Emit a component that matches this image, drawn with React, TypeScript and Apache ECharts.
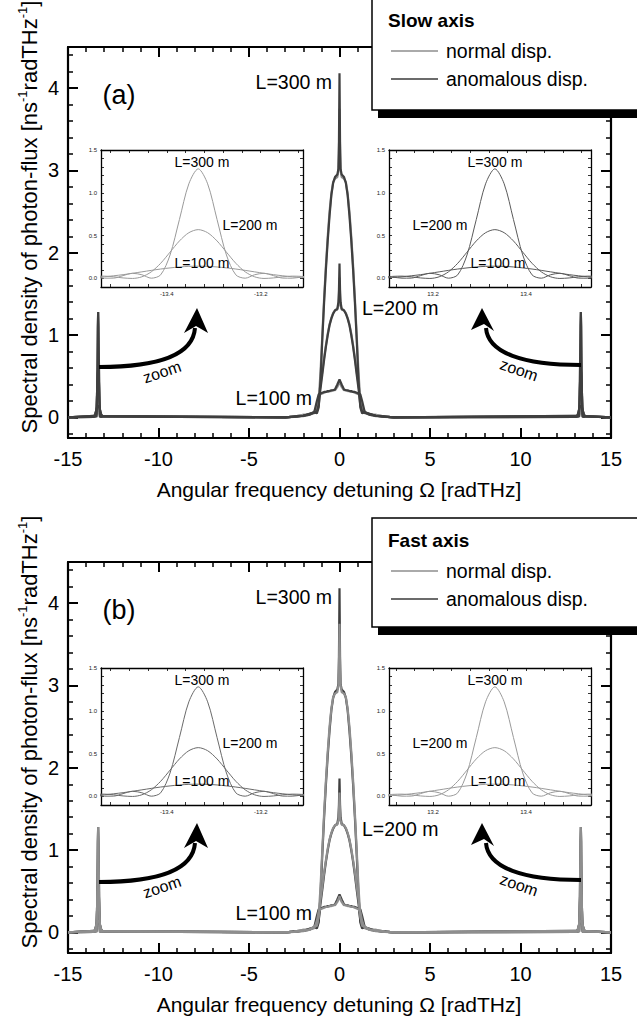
import React, { useEffect, useRef } from 'react';
import * as echarts from 'echarts';

const FONT = '"Liberation Sans", Arial, Helvetica, sans-serif';

// ---------- main-plot data ----------
const X_EDGES = [-15, 15];
const X_LABELS = [-15, -10, -5, 0, 5, 10, 15];
const Y_TICKS = [0, 1, 2, 3, 4];
const Y_MINOR = [-0.2, 0.2, 0.4, 0.6, 0.8, 1.2, 1.4, 1.6, 1.8, 2.2, 2.4, 2.6, 2.8, 3.2, 3.4, 3.6, 3.8, 4.2, 4.4];

const MAIN_X = [-3, -2.5, -2, -1.7, -1.4, -1.25, -1.15, -1.05, -0.95, -0.85, -0.75, -0.65, -0.55, -0.45, -0.35, -0.25, -0.12, -0.06, -0.03, 0, 0.03, 0.06, 0.12, 0.25, 0.35, 0.45, 0.55, 0.65, 0.75, 0.85, 0.95, 1.05, 1.15, 1.25, 1.4, 1.7, 2, 2.5, 3];
const L300_ANOM = [0, 0.01, 0.02, 0.04, 0.06, 0.05, 0.12, 0.45, 0.95, 1.4, 1.8, 2.15, 2.45, 2.7, 2.85, 2.92, 2.95, 3.02, 3.35, 4.18, 3.35, 3.02, 2.95, 2.92, 2.85, 2.7, 2.45, 2.15, 1.8, 1.4, 0.95, 0.45, 0.12, 0.05, 0.06, 0.04, 0.02, 0.01, 0];
const L300_NORM = [0, 0.01, 0.03, 0.03, 0.07, 0.08, 0.2, 0.55, 1.0, 1.45, 1.85, 2.2, 2.5, 2.72, 2.86, 2.9, 2.92, 3.0, 3.2, 3.75, 3.2, 3.0, 2.92, 2.9, 2.86, 2.72, 2.5, 2.2, 1.85, 1.45, 1.0, 0.55, 0.2, 0.08, 0.07, 0.03, 0.03, 0.01, 0];
const L200_ANOM = [0, 0.01, 0.02, 0.04, 0.06, 0.07, 0.15, 0.35, 0.52, 0.7, 0.86, 1.0, 1.12, 1.2, 1.26, 1.3, 1.32, 1.4, 1.55, 1.87, 1.55, 1.4, 1.32, 1.3, 1.26, 1.2, 1.12, 1.0, 0.86, 0.7, 0.52, 0.35, 0.15, 0.07, 0.06, 0.04, 0.02, 0.01, 0];
const L200_NORM = [0, 0.01, 0.03, 0.03, 0.07, 0.09, 0.2, 0.4, 0.56, 0.73, 0.88, 1.02, 1.13, 1.21, 1.27, 1.3, 1.31, 1.36, 1.45, 1.7, 1.45, 1.36, 1.31, 1.3, 1.27, 1.21, 1.13, 1.02, 0.88, 0.73, 0.56, 0.4, 0.2, 0.09, 0.07, 0.03, 0.03, 0.01, 0];
const L100_ANOM = [0, 0.01, 0.02, 0.03, 0.06, 0.2, 0.28, 0.29, 0.3, 0.31, 0.31, 0.32, 0.32, 0.33, 0.33, 0.34, 0.4, 0.43, 0.445, 0.46, 0.445, 0.43, 0.4, 0.34, 0.33, 0.33, 0.32, 0.32, 0.31, 0.31, 0.3, 0.29, 0.28, 0.2, 0.06, 0.03, 0.02, 0.01, 0];
const L100_NORM = [0, 0.005, 0.015, 0.03, 0.05, 0.14, 0.25, 0.28, 0.29, 0.3, 0.31, 0.31, 0.32, 0.32, 0.33, 0.33, 0.37, 0.4, 0.42, 0.44, 0.42, 0.4, 0.37, 0.33, 0.33, 0.32, 0.32, 0.31, 0.31, 0.3, 0.29, 0.28, 0.25, 0.14, 0.05, 0.03, 0.015, 0.005, 0];

// ---------- side peaks (inset data) ----------
const PEAK_POS = 13.333;
const INSET_OFF = [-0.24, -0.22, -0.2, -0.18, -0.16, -0.14, -0.12, -0.1, -0.08, -0.06, -0.04, -0.02, 0, 0.02, 0.04, 0.06, 0.08, 0.1, 0.12, 0.14, 0.16, 0.18, 0.2, 0.22, 0.24];
const INSET_L300 = [0.02, 0.016, 0.003, 0.004, 0.033, 0.06, 0.043, 0.003, 0.042, 0.274, 0.689, 1.105, 1.28, 1.105, 0.689, 0.274, 0.042, 0.003, 0.043, 0.06, 0.033, 0.004, 0.003, 0.016, 0.02];
const INSET_L200 = [0.015, 0.024, 0.027, 0.019, 0.006, 0, 0.019, 0.077, 0.177, 0.307, 0.438, 0.534, 0.57, 0.534, 0.438, 0.307, 0.177, 0.077, 0.019, 0, 0.006, 0.019, 0.027, 0.024, 0.015];
const INSET_L100 = [0.005, 0.011, 0.019, 0.031, 0.044, 0.06, 0.077, 0.094, 0.11, 0.123, 0.134, 0.141, 0.143, 0.141, 0.134, 0.123, 0.11, 0.094, 0.077, 0.06, 0.044, 0.031, 0.019, 0.011, 0.005];

const INSET_LEFT_RANGE = [-13.54, -13.11];
const INSET_RIGHT_RANGE = [13.105, 13.54];
const INSET_LEFT_LABELS = [-13.4, -13.2];
const INSET_RIGHT_LABELS = [13.2, 13.4];
const INSET_LEFT_TICKS = [-13.52, -13.48, -13.44, -13.4, -13.36, -13.32, -13.28, -13.24, -13.2, -13.16, -13.12];
const INSET_RIGHT_TICKS = [13.12, 13.16, 13.2, 13.24, 13.28, 13.32, 13.36, 13.4, 13.44, 13.48, 13.52];
const INSET_Y_LABELS = [0, 0.5, 1.0, 1.5];
const INSET_Y_TICKS = [-0.1, 0, 0.1, 0.2, 0.3, 0.4, 0.5, 0.6, 0.7, 0.8, 0.9, 1.0, 1.1, 1.2, 1.3, 1.4, 1.5];

const L_NAMES = ['L=300 m', 'L=200 m', 'L=100 m'];

function buildOption() {
  const grid: any[] = [];
  const xAxis: any[] = [];
  const yAxis: any[] = [];
  const series: any[] = [];
  const graphic: any[] = [];

  const line = (w: number) => ({ show: true, onZero: false, lineStyle: { color: '#000', width: w } });

  function addMain(dy: number) {
    const gi = grid.length;
    grid.push({ left: 68, top: 47 + dy, width: 543, height: 391 });
    const xi = xAxis.length;
    for (const pos of ['bottom', 'top']) {
      xAxis.push({
        gridIndex: gi, type: 'value', position: pos, min: X_EDGES[0], max: X_EDGES[1], interval: 5,
        axisLine: line(2.2), splitLine: { show: false },
        axisTick: { show: true, inside: true, length: 10, lineStyle: { color: '#000', width: 2 } },
        minorTick: { show: true, splitNumber: 5, length: 5, lineStyle: { color: '#000', width: 1.5 } },
        axisLabel: pos === 'bottom'
          ? { show: true, customValues: X_LABELS, fontSize: 20, fontFamily: FONT, color: '#000', margin: 11 }
          : { show: false },
      });
    }
    const yi = yAxis.length;
    for (const pos of ['left', 'right']) {
      yAxis.push({
        gridIndex: gi, type: 'value', position: pos, min: -0.25, max: 4.5,
        axisLine: line(2.2), splitLine: { show: false },
        axisTick: { show: true, inside: true, length: 10, customValues: Y_TICKS, lineStyle: { color: '#000', width: 2 } },
        axisLabel: pos === 'left'
          ? { show: true, customValues: Y_TICKS, fontSize: 20, fontFamily: FONT, color: '#000', margin: 9 }
          : { show: false },
      });
      yAxis.push({
        gridIndex: gi, type: 'value', position: pos, min: -0.25, max: 4.5,
        axisLine: { show: false, onZero: false }, splitLine: { show: false },
        axisTick: { show: true, inside: true, length: 5, customValues: Y_MINOR, lineStyle: { color: '#000', width: 1.5 } },
        axisLabel: { show: false },
      });
    }
    return { xi, yi };
  }

  function addInset(left: number, top: number, range: number[], labels: number[], ticks: number[]) {
    const gi = grid.length;
    grid.push({ left, top, width: 202, height: 137, show: true, backgroundColor: '#fff', borderWidth: 0 });
    const xi = xAxis.length;
    for (const pos of ['bottom', 'top']) {
      xAxis.push({
        gridIndex: gi, type: 'value', position: pos, min: range[0], max: range[1],
        axisLine: line(1.3), splitLine: { show: false },
        axisTick: { show: true, inside: true, length: 3, customValues: ticks, lineStyle: { color: '#000', width: 0.8 } },
        axisLabel: pos === 'bottom'
          ? { show: true, customValues: labels, fontSize: 6, fontFamily: FONT, color: '#222', margin: 4, formatter: (v: number) => v.toFixed(1) }
          : { show: false },
      });
    }
    const yi = yAxis.length;
    for (const pos of ['left', 'right']) {
      yAxis.push({
        gridIndex: gi, type: 'value', position: pos, min: -0.1, max: 1.5,
        axisLine: line(1.3), splitLine: { show: false },
        axisTick: { show: true, inside: true, length: 3, customValues: INSET_Y_TICKS, lineStyle: { color: '#000', width: 0.8 } },
        axisLabel: pos === 'left'
          ? { show: true, customValues: INSET_Y_LABELS, fontSize: 6, fontFamily: FONT, color: '#222', margin: 4, formatter: (v: number) => v.toFixed(1) }
          : { show: false },
      });
    }
    return { xi, yi };
  }

  const sidePeaks = (center: number, vals: number[]) => INSET_OFF.map((o, i) => [center + o, vals[i]]);
  const mainData = (central: number[], side: number[]) => [
    [X_EDGES[0], 0],
    ...sidePeaks(-PEAK_POS, side),
    ...MAIN_X.map((x, i) => [x, central[i]]),
    ...sidePeaks(PEAK_POS, side),
    [X_EDGES[1], 0],
  ];

  const panels = [
    { dy: 0, tag: '(a)', title: 'Slow axis', insetDy: 0, legTop: -5, legH: 115, ty: 20, l200y: 308, order: ['norm', 'anom'], lc: '#9a9a9a', rc: '#5a5a5a' },
    { dy: 515, tag: '(b)', title: 'Fast axis', insetDy: 518, legTop: 518, legH: 109, ty: 540, l200y: 829, order: ['anom', 'norm'], lc: '#6a6a6a', rc: '#9a9a9a' },
  ];

  for (const p of panels) {
    const m = addMain(p.dy);
    const mainSets: Record<string, number[][]> = {
      anom: [L300_ANOM, L200_ANOM, L100_ANOM],
      norm: [L300_NORM, L200_NORM, L100_NORM],
    };
    const sides = [INSET_L300, INSET_L200, INSET_L100];
    for (const kind of p.order) {
      mainSets[kind].forEach((arr, k) => {
        series.push({
          type: 'line', xAxisIndex: m.xi, yAxisIndex: m.yi, showSymbol: false, symbol: 'none',
          data: mainData(arr, sides[k]), silent: true,
          lineStyle: { color: kind === 'anom' ? '#3f3f3f' : '#8e8e8e', width: 2.2 },
          z: 3,
        });
      });
    }

    const insets = [
      { left: 101, range: INSET_LEFT_RANGE, labels: INSET_LEFT_LABELS, ticks: INSET_LEFT_TICKS, center: -PEAK_POS, color: p.lc },
      { left: 389, range: INSET_RIGHT_RANGE, labels: INSET_RIGHT_LABELS, ticks: INSET_RIGHT_TICKS, center: PEAK_POS, color: p.rc },
    ];
    for (const ins of insets) {
      const a = addInset(ins.left, 150 + p.insetDy, ins.range, ins.labels, ins.ticks);
      sides.forEach((vals) => {
        series.push({
          type: 'line', xAxisIndex: a.xi, yAxisIndex: a.yi, showSymbol: false, symbol: 'none', smooth: 0.3,
          data: sidePeaks(ins.center, vals), silent: true,
          lineStyle: { color: ins.color, width: 1 }, z: 5,
        });
      });
    }

    const T = (x: number, y: number, text: string, size: number, extra: any = {}) => ({
      type: 'text', x, y, z: 100, rotation: extra.rot || 0,
      style: {
        text, fontSize: size, fontFamily: FONT, fill: '#000', fontWeight: extra.weight || 'normal',
        align: extra.align || 'center', verticalAlign: 'middle',
      },
    });
    const dy = p.dy;
    const idy = p.insetDy;

    // panel tag
    graphic.push(T(119, 95 + dy, p.tag, 27));
    // main curve labels
    graphic.push(T(332, 82 + dy, L_NAMES[0], 19.5, { align: 'right' }));
    graphic.push(T(362, p.l200y, L_NAMES[1], 19.5, { align: 'left' }));
    graphic.push(T(312, 398 + dy, L_NAMES[2], 19.5, { align: 'right' }));
    // inset labels
    graphic.push(T(202, 162 + idy, L_NAMES[0], 14));
    graphic.push(T(250, 225 + idy, L_NAMES[1], 14));
    graphic.push(T(202, 263 + idy, L_NAMES[2], 14));
    graphic.push(T(495, 162 + idy, L_NAMES[0], 14));
    graphic.push(T(440, 225 + idy, L_NAMES[1], 14));
    graphic.push(T(498, 263 + idy, L_NAMES[2], 14));

    // axis titles
    graphic.push(T(339, 489 + dy, 'Angular frequency detuning Ω [radTHz]', 21));
    graphic.push({
      type: 'text', x: 29, y: 217 + dy, z: 100, rotation: Math.PI / 2,
      style: {
        text: '{n|Spectral density of photon-flux [ns}{s|-1}{n|radTHz}{s|-1}{n|]}',
        align: 'center', verticalAlign: 'middle', fill: '#000',
        rich: {
          n: { fontSize: 22, fontFamily: FONT, lineHeight: 27, fill: '#000' },
          s: { fontSize: 13, fontFamily: FONT, lineHeight: 14, verticalAlign: 'top', fill: '#000' },
        },
      },
    });

    // zoom arrows
    graphic.push({
      type: 'bezierCurve', z: 100,
      shape: { x1: 99, y1: 367 + dy, x2: 195, y2: 328 + dy, cpx1: 160, cpy1: 367 + dy, cpx2: 193, cpy2: 355 + dy },
      style: { stroke: '#000', lineWidth: 4, fill: 'none' },
    });
    graphic.push({
      type: 'polygon', z: 101,
      shape: { points: [[197, 308 + dy], [184, 333 + dy], [196, 326 + dy], [208, 333 + dy]] },
      style: { fill: '#000' },
    });
    graphic.push(T(162, 372 + dy, 'zoom', 16, { rot: 0.33 }));
    graphic.push({
      type: 'bezierCurve', z: 100,
      shape: { x1: 581, y1: 365 + dy, x2: 486, y2: 328 + dy, cpx1: 523, cpy1: 365 + dy, cpx2: 488, cpy2: 353 + dy },
      style: { stroke: '#000', lineWidth: 4, fill: 'none' },
    });
    graphic.push({
      type: 'polygon', z: 101,
      shape: { points: [[482, 308 + dy], [471, 330 + dy], [484, 324 + dy], [494, 331 + dy]] },
      style: { fill: '#000' },
    });
    graphic.push(T(519, 370 + dy, 'zoom', 16, { rot: -0.33 }));

    // legend box (extends past the right edge of the page)
    const lt = p.legTop;
    graphic.push({ type: 'rect', z: 110, shape: { x: 378, y: lt + 8, width: 290, height: p.legH }, style: { fill: '#000' } });
    graphic.push({ type: 'rect', z: 111, shape: { x: 372, y: lt, width: 290, height: p.legH }, style: { fill: '#fff', stroke: '#000', lineWidth: 1.5 } });
    const ty = p.ty;
    graphic.push({ ...T(388, ty, p.title, 19, { align: 'left', weight: 'bold' }), z: 112 });
    graphic.push({ type: 'line', z: 112, shape: { x1: 391, y1: ty + 31, x2: 438, y2: ty + 31 }, style: { stroke: '#8e8e8e', lineWidth: 1.5 } });
    graphic.push({ ...T(446, ty + 31, 'normal disp.', 19.5, { align: 'left' }), z: 112 });
    graphic.push({ type: 'line', z: 112, shape: { x1: 391, y1: ty + 59, x2: 438, y2: ty + 59 }, style: { stroke: '#3a3a3a', lineWidth: 1.5 } });
    graphic.push({ ...T(446, ty + 59, 'anomalous disp.', 19.5, { align: 'left' }), z: 112 });
  }

  return { animation: false, backgroundColor: '#fff', grid, xAxis, yAxis, series, graphic };
}

export default function App() {
  const ref = useRef<HTMLDivElement>(null);
  useEffect(() => {
    const chart = echarts.init(ref.current!, null, { renderer: 'svg' });
    chart.setOption(buildOption() as any);
    return () => chart.dispose();
  }, []);
  return (
    <div
      ref={ref}
      style={{ position: 'absolute', left: 0, top: 0, width: 637, height: 1020, background: '#fff' }}
    />
  );
}
